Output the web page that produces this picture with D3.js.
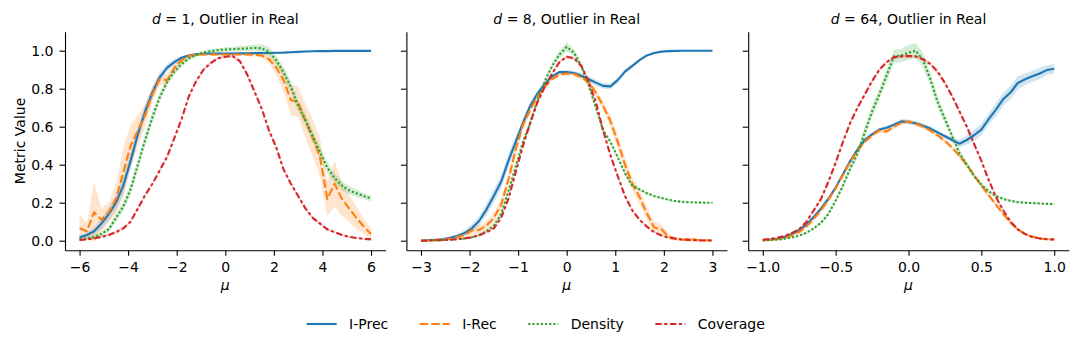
<!DOCTYPE html>
<html lang="en">
<head>
  <meta charset="utf-8">
  <title>Metric value vs mu, outlier in real</title>
  <script src="https://d3js.org/d3.v7.min.js"></script>
  <style>
    body { margin: 0; background: #fff; }
    svg text { font-family: "DejaVu Sans", sans-serif; fill: #000; }
  </style>
</head>
<body>
  <div id="my_dataviz"></div>

  <script>
    // ---- data ----
    var dims = [1, 8, 64];
    var seriesNames = ["I-Prec", "I-Rec", "Density", "Coverage"];

    // x grids (mu)
    var muD1 = [-6,-5.7,-5.4,-5.1,-4.8,-4.5,-4.2,-3.9,-3.6,-3.3,-3,-2.7,-2.4,-2.1,-1.8,-1.5,-1.2,-0.9,-0.6,-0.3,0,0.3,0.6,0.9,1.2,1.5,1.8,2.1,2.4,2.7,3,3.3,3.6,3.9,4.2,4.5,4.8,5.1,5.4,5.7,6];
    var muD8 = [-3,-2.85,-2.7,-2.55,-2.4,-2.25,-2.1,-1.95,-1.8,-1.65,-1.5,-1.35,-1.2,-1.05,-0.9,-0.75,-0.6,-0.45,-0.3,-0.15,0,0.15,0.3,0.45,0.6,0.75,0.9,1.05,1.2,1.35,1.5,1.65,1.8,1.95,2.1,2.25,2.4,2.55,2.7,2.85,3];
    var muD64 = [-1,-0.95,-0.9,-0.85,-0.8,-0.75,-0.7,-0.65,-0.6,-0.55,-0.5,-0.45,-0.4,-0.35,-0.3,-0.25,-0.2,-0.15,-0.1,-0.05,0,0.05,0.1,0.15,0.2,0.25,0.3,0.35,0.4,0.45,0.5,0.55,0.6,0.65,0.7,0.75,0.8,0.85,0.9,0.95,1];

    // d = 1
    var iprecD1 = [0.018,0.03,0.05,0.09,0.14,0.2,0.29,0.42,0.56,0.68,0.78,0.86,0.91,0.94,0.963,0.975,0.981,0.984,0.985,0.985,0.985,0.985,0.986,0.986,0.987,0.987,0.988,0.989,0.99,0.992,0.994,0.996,0.997,0.998,0.998,0.999,0.999,0.999,0.999,0.999,0.999];
    var iprecCiD1 = [0.01,0.015,0.02,0.03,0.035,0.04,0.045,0.045,0.04,0.035,0.03,0.025,0.02,0.015,0.01,0.006,0.005,0.005,0.005,0.005,0.005,0.005,0.005,0.005,0.005,0.005,0.005,0.005,0.005,0.005,0.005,0.005,0.004,0.004,0.004,0.004,0.004,0.004,0.004,0.004,0.004];
    var irecD1 = [0.065,0.05,0.15,0.11,0.15,0.22,0.36,0.50,0.58,0.66,0.77,0.85,0.845,0.91,0.95,0.972,0.98,0.98,0.98,0.98,0.98,0.98,0.98,0.98,0.978,0.975,0.955,0.91,0.845,0.74,0.73,0.63,0.54,0.44,0.22,0.30,0.22,0.17,0.12,0.075,0.035];
    var irecCiD1 = [0.07,0.04,0.16,0.06,0.05,0.08,0.13,0.11,0.08,0.06,0.04,0.03,0.03,0.02,0.015,0.01,0.008,0.006,0.006,0.006,0.006,0.006,0.006,0.008,0.01,0.012,0.02,0.04,0.06,0.08,0.08,0.09,0.10,0.10,0.09,0.12,0.09,0.07,0.06,0.04,0.03];
    var densD1 = [0.007,0.012,0.02,0.035,0.06,0.12,0.18,0.27,0.40,0.53,0.65,0.755,0.835,0.89,0.93,0.96,0.977,0.99,0.998,1.003,1.006,1.008,1.01,1.012,1.015,1.012,0.995,0.95,0.885,0.81,0.71,0.635,0.55,0.465,0.385,0.33,0.29,0.265,0.25,0.235,0.223];
    var densCiD1 = [0.005,0.008,0.01,0.012,0.015,0.02,0.025,0.03,0.03,0.03,0.03,0.025,0.02,0.02,0.015,0.012,0.01,0.01,0.01,0.01,0.012,0.012,0.015,0.015,0.018,0.02,0.025,0.025,0.03,0.03,0.03,0.03,0.03,0.03,0.03,0.025,0.025,0.02,0.02,0.015,0.015];
    var covD1 = [0.004,0.007,0.012,0.02,0.03,0.045,0.065,0.10,0.17,0.24,0.30,0.37,0.44,0.54,0.64,0.76,0.84,0.90,0.935,0.96,0.968,0.972,0.945,0.875,0.785,0.695,0.58,0.49,0.375,0.30,0.235,0.17,0.12,0.09,0.06,0.045,0.03,0.02,0.014,0.01,0.007];
    var covCiD1 = [0.003,0.004,0.005,0.006,0.006,0.007,0.008,0.008,0.008,0.008,0.008,0.008,0.008,0.008,0.008,0.008,0.008,0.008,0.008,0.008,0.008,0.008,0.008,0.008,0.008,0.008,0.008,0.008,0.008,0.008,0.008,0.008,0.008,0.008,0.007,0.006,0.006,0.005,0.004,0.004,0.003];

    // d = 8
    var iprecD8 = [0,0.002,0.005,0.008,0.015,0.025,0.04,0.065,0.105,0.165,0.235,0.31,0.42,0.52,0.62,0.71,0.775,0.825,0.865,0.887,0.888,0.883,0.868,0.85,0.832,0.815,0.812,0.845,0.89,0.92,0.95,0.975,0.988,0.995,0.998,0.999,1,1,1,1,1];
    var iprecCiD8 = [0.0,0.001,0.003,0.005,0.008,0.01,0.015,0.02,0.025,0.03,0.035,0.035,0.035,0.03,0.025,0.02,0.015,0.012,0.01,0.01,0.01,0.01,0.012,0.015,0.015,0.015,0.015,0.015,0.012,0.01,0.008,0.005,0.004,0.003,0.002,0.002,0.001,0.001,0.001,0.001,0.001];
    var irecD8 = [0,0.001,0.003,0.006,0.01,0.02,0.03,0.055,0.056,0.08,0.12,0.19,0.32,0.48,0.61,0.69,0.76,0.81,0.85,0.875,0.88,0.877,0.86,0.835,0.78,0.71,0.63,0.52,0.40,0.30,0.23,0.144,0.07,0.06,0.02,0.01,0.005,0.008,0.003,0.002,0.001];
    var irecCiD8 = [0,0.001,0.002,0.004,0.006,0.01,0.015,0.03,0.025,0.025,0.025,0.03,0.035,0.04,0.03,0.02,0.015,0.01,0.01,0.01,0.01,0.01,0.012,0.015,0.02,0.025,0.03,0.035,0.035,0.035,0.04,0.035,0.03,0.025,0.015,0.01,0.008,0.012,0.006,0.004,0.003];
    var densD8 = [0,0.001,0.002,0.003,0.005,0.008,0.012,0.018,0.03,0.05,0.08,0.14,0.26,0.39,0.52,0.62,0.74,0.84,0.92,0.98,1.02,0.99,0.92,0.82,0.70,0.58,0.52,0.44,0.355,0.29,0.27,0.25,0.235,0.225,0.215,0.208,0.204,0.202,0.201,0.2,0.2];
    var densCiD8 = [0,0,0.001,0.001,0.002,0.003,0.004,0.005,0.006,0.008,0.01,0.012,0.015,0.015,0.015,0.015,0.015,0.015,0.015,0.02,0.025,0.02,0.015,0.015,0.012,0.012,0.01,0.01,0.01,0.01,0.008,0.008,0.006,0.006,0.005,0.005,0.004,0.004,0.004,0.004,0.004];
    var covD8 = [0,0.001,0.002,0.003,0.005,0.008,0.012,0.018,0.028,0.045,0.065,0.12,0.22,0.36,0.50,0.62,0.73,0.81,0.88,0.94,0.968,0.96,0.92,0.84,0.73,0.58,0.45,0.34,0.235,0.16,0.11,0.074,0.045,0.027,0.016,0.01,0.006,0.004,0.002,0.001,0.001];
    var covCiD8 = [0,0,0.001,0.001,0.001,0.002,0.002,0.003,0.004,0.005,0.006,0.007,0.008,0.008,0.008,0.008,0.008,0.008,0.008,0.008,0.008,0.008,0.008,0.008,0.008,0.008,0.008,0.008,0.008,0.007,0.006,0.005,0.004,0.003,0.002,0.002,0.001,0.001,0.001,0.001,0.001];

    // d = 64
    var iprecD64 = [0.003,0.006,0.01,0.02,0.035,0.055,0.085,0.125,0.17,0.22,0.28,0.35,0.42,0.48,0.53,0.56,0.585,0.595,0.61,0.628,0.625,0.618,0.605,0.59,0.57,0.55,0.53,0.51,0.53,0.555,0.585,0.64,0.69,0.745,0.78,0.83,0.85,0.865,0.88,0.898,0.905];
    var iprecCiD64 = [0.001,0.002,0.003,0.004,0.005,0.006,0.008,0.01,0.01,0.01,0.01,0.01,0.01,0.01,0.01,0.01,0.01,0.01,0.01,0.012,0.012,0.012,0.012,0.012,0.012,0.012,0.015,0.02,0.025,0.03,0.03,0.03,0.035,0.035,0.035,0.035,0.03,0.03,0.03,0.025,0.025];
    var irecD64 = [0.002,0.004,0.008,0.015,0.028,0.045,0.075,0.115,0.16,0.215,0.275,0.345,0.415,0.475,0.52,0.555,0.58,0.575,0.6,0.62,0.628,0.615,0.6,0.58,0.555,0.525,0.49,0.445,0.40,0.345,0.29,0.24,0.19,0.14,0.095,0.06,0.035,0.02,0.012,0.008,0.006];
    var irecCiD64 = [0.001,0.002,0.003,0.004,0.005,0.006,0.008,0.01,0.01,0.01,0.01,0.01,0.01,0.01,0.01,0.012,0.012,0.012,0.012,0.01,0.01,0.01,0.012,0.012,0.012,0.012,0.012,0.012,0.012,0.012,0.012,0.012,0.012,0.01,0.01,0.008,0.006,0.005,0.004,0.003,0.003];
    var densD64 = [0.002,0.003,0.006,0.01,0.017,0.027,0.042,0.065,0.095,0.14,0.21,0.29,0.38,0.46,0.57,0.68,0.77,0.87,0.97,0.975,0.99,1.0,0.95,0.85,0.73,0.64,0.55,0.46,0.40,0.34,0.295,0.26,0.235,0.22,0.21,0.203,0.2,0.198,0.196,0.194,0.193];
    var densCiD64 = [0.001,0.001,0.002,0.002,0.003,0.004,0.005,0.006,0.008,0.01,0.012,0.015,0.02,0.025,0.03,0.03,0.03,0.035,0.035,0.035,0.04,0.04,0.04,0.035,0.03,0.025,0.02,0.02,0.015,0.012,0.01,0.01,0.008,0.008,0.006,0.006,0.006,0.005,0.005,0.005,0.005];
    var covD64 = [0.005,0.01,0.015,0.025,0.04,0.06,0.10,0.16,0.22,0.31,0.41,0.52,0.62,0.70,0.77,0.84,0.90,0.94,0.965,0.97,0.972,0.97,0.955,0.93,0.89,0.83,0.76,0.68,0.60,0.51,0.42,0.32,0.23,0.16,0.10,0.06,0.035,0.02,0.012,0.008,0.006];
    var covCiD64 = [0.002,0.003,0.004,0.005,0.006,0.007,0.008,0.01,0.01,0.01,0.01,0.01,0.01,0.01,0.01,0.01,0.01,0.008,0.008,0.008,0.008,0.008,0.008,0.008,0.01,0.01,0.01,0.01,0.01,0.01,0.01,0.01,0.01,0.01,0.008,0.007,0.006,0.005,0.004,0.003,0.003];

    var xTicksD1 = [-6, -4, -2, 0, 2, 4, 6];
    var xTicksD8 = [-3, -2, -1, 0, 1, 2, 3];
    var xTicksD64 = [-1, -0.5, 0, 0.5, 1];
    var yTicks = [0, 0.2, 0.4, 0.6, 0.8, 1.0];

    // ---- styles ----
    var colors = ["#1f77b4", "#ff7f0e", "#2ca02c", "#d62728"];
    var lw = 2.1;
    var dashes = ["", "8.4,3.15", "2.1,2.1", "6.3,2.6,3.15,2.6"];

    var panels = [
      { d: dims[0], mu: muD1, domain: [-6.6, 6.6], ticks: xTicksD1, fmt: d3.format("d"),
        vals: [iprecD1, irecD1, densD1, covD1], ci: [iprecCiD1, irecCiD1, densCiD1, covCiD1] },
      { d: dims[1], mu: muD8, domain: [-3.3, 3.3], ticks: xTicksD8, fmt: d3.format("d"),
        vals: [iprecD8, irecD8, densD8, covD8], ci: [iprecCiD8, irecCiD8, densCiD8, covCiD8] },
      { d: dims[2], mu: muD64, domain: [-1.1, 1.1], ticks: xTicksD64, fmt: d3.format(".1f"),
        vals: [iprecD64, irecD64, densD64, covD64], ci: [iprecCiD64, irecCiD64, densCiD64, covCiD64] }
    ];

    var width = 1079, height = 349;
    var panelLeft = [65, 406.4, 748.2], panelW = 320.6;
    var plotTop = 31.7, plotBottom = 250.2;

    var svg = d3.select("#my_dataviz")
      .append("svg")
      .attr("width", width)
      .attr("height", height);

    var y = d3.scaleLinear().domain([-0.05, 1.1]).range([plotBottom, plotTop]);

    panels.forEach(function(p, pi) {
      var x = d3.scaleLinear().domain(p.domain).range([panelLeft[pi], panelLeft[pi] + panelW]);
      var g = svg.append("g");

      // confidence bands (under all lines)
      p.vals.forEach(function(v, si) {
        var pts = p.mu.map(function(m, i) { return { m: m, v: v[i], c: p.ci[si][i] }; });
        g.append("path")
          .datum(pts)
          .attr("fill", colors[si])
          .attr("fill-opacity", 0.2)
          .attr("d", d3.area()
            .x(function(d) { return x(d.m); })
            .y0(function(d) { return y(d.v - d.c); })
            .y1(function(d) { return y(d.v + d.c); }));
      });

      // lines
      p.vals.forEach(function(v, si) {
        var pts = p.mu.map(function(m, i) { return { m: m, v: v[i] }; });
        g.append("path")
          .datum(pts)
          .attr("fill", "none")
          .attr("stroke", colors[si])
          .attr("stroke-width", lw)
          .attr("stroke-dasharray", dashes[si] || null)
          .attr("stroke-linejoin", "round")
          .attr("d", d3.line()
            .x(function(d) { return x(d.m); })
            .y(function(d) { return y(d.v); }));
      });

      // axes
      var xAxis = g.append("g")
        .attr("transform", "translate(0," + plotBottom + ")")
        .call(d3.axisBottom(x).tickValues(p.ticks).tickFormat(p.fmt)
          .tickSize(5.5).tickSizeOuter(0).tickPadding(6.5));
      var yAxis = g.append("g")
        .attr("transform", "translate(" + panelLeft[pi] + ",0)")
        .call(d3.axisLeft(y).tickValues(yTicks).tickFormat(pi === 0 ? d3.format(".1f") : function() { return ""; })
          .tickSize(5.5).tickSizeOuter(0).tickPadding(6));
      [xAxis, yAxis].forEach(function(a) {
        a.attr("font-size", 14).attr("font-family", null);
        a.selectAll("path, line").attr("stroke", "#000").attr("stroke-width", 1.1);
        a.selectAll("text").attr("fill", "#000");
      });

      var cx = panelLeft[pi] + panelW / 2;
      // title
      var t = g.append("text")
        .attr("x", cx).attr("y", 23.5)
        .attr("text-anchor", "middle")
        .attr("font-size", 14);
      t.append("tspan").attr("font-style", "italic").text("d");
      t.append("tspan").text(" = " + p.d + ", Outlier in Real");

      // x label
      g.append("text")
        .attr("x", cx).attr("y", 289.5)
        .attr("text-anchor", "middle")
        .attr("font-size", 14)
        .attr("font-style", "italic")
        .text("\u03bc");
    });

    // y label
    svg.append("text")
      .attr("transform", "translate(25," + ((plotTop + plotBottom) / 2) + ") rotate(-90)")
      .attr("text-anchor", "middle")
      .attr("font-size", 14)
      .text("Metric Value");

    // legend
    var legend = svg.append("g");
    var lx = 306.7, ly = 324;
    seriesNames.forEach(function(name, si) {
      legend.append("line")
        .attr("x1", lx).attr("x2", lx + 30)
        .attr("y1", ly).attr("y2", ly)
        .attr("stroke", colors[si])
        .attr("stroke-width", lw)
        .attr("stroke-dasharray", dashes[si] || null);
      var txt = legend.append("text")
        .attr("x", lx + 42.4).attr("y", ly + 5.3)
        .attr("font-size", 14)
        .text(name);
      lx = lx + 42.4 + txt.node().getComputedTextLength() + 31.5;
    });
  </script>
</body>
</html>
